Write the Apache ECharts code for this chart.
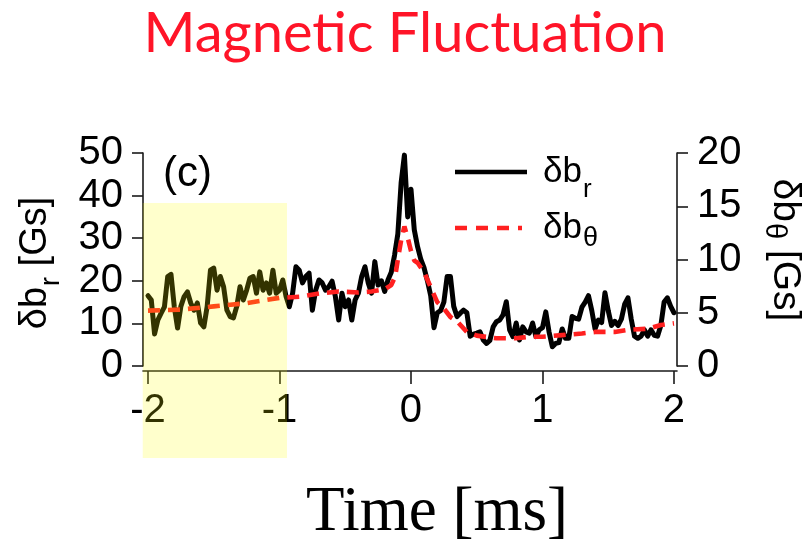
<!DOCTYPE html>
<html><head><meta charset="utf-8">
<script src="https://cdn.jsdelivr.net/npm/echarts@6/dist/echarts.min.js"></script>
<style>html,body{margin:0;padding:0;background:#fff}#main{width:811px;height:542px}</style>
</head><body><div id="main"></div>
<script>
// ---- data ----
const tStart = -2, tStep = 0.025; // sampling grid of the δb_r trace [ms]
const br = [
16.5,15.5,7.5,10.8,12.4,13.9,21,21.5,13.9,8.9,
14,16.3,17.4,14.8,13.1,14.8,10.1,9.2,14,22.5,
23,17.8,21,18.6,13.1,11.6,11.3,14,18.6,15.5,
17.8,20.6,21,17.1,22.1,17.8,19.5,17.1,22.5,17.1,
17.8,20.2,16.3,13.9,17.1,23.3,22.5,19.5,21,21.8,
13.1,17.8,20.2,19.5,17.8,18.6,19.9,16.3,10.8,17.1,
13.9,15.5,10.8,15.5,17.1,21,23.3,19.5,17.1,24.5,
19,20,17.5,20.2,22,26,31,43,49.5,35,
41.5,32,28,25,23,20,16.5,9,12.5,13,
15,21,21,14,11.6,12.4,13.1,12.5,7,7.5,
7.7,8,6.1,5.3,6,9.2,10.4,10.8,12,15.1,
8.5,6.9,10.1,6.1,9.2,8,7.7,10.1,6.9,8.5,
9,12.7,8,4.5,5.3,5.5,8.7,6.5,6.5,11.6,
11.2,11,13.8,15,16.5,13,8.7,10.8,10.2,17.2,
13,9.5,10.5,9.5,11,14.5,16,11,7,6.5,
7,8.5,7,8.5,7.2,7,9.5,15,16,14,
12.5
];
const thetaTimes = [-2.0,-1.75,-1.5,-1.25,-1.0,-0.85,-0.7,-0.55,-0.4,-0.3,-0.2,-0.15,-0.12,-0.1,-0.075,-0.05,-0.02,0.0,0.025,0.05,0.1,0.15,0.2,0.25,0.3,0.35,0.425,0.5,0.65,0.8,0.9,1.0,1.15,1.3,1.4,1.55,1.65,1.8,1.9,2.0];
const thetaValues = [5.2,5.3,5.6,5.9,6.4,6.5,6.8,7.0,6.9,7.0,7.2,7.6,8.4,10.0,11.8,13.1,11.8,10.8,9.9,9.7,8.8,7.4,6.0,5.4,4.6,4.2,3.2,2.85,2.6,2.6,2.75,2.75,2.9,3.05,3.2,3.2,3.4,3.5,3.85,4.0];
const xTickValues = [-2,-1,0,1,2];
const highlightRange = [-2.04, -0.943]; // shaded time window [ms]

const chart = echarts.init(document.getElementById('main'), null, {renderer:'canvas'});
const FONT = 'Liberation Sans';
const axisCol = '#1a1a1a';
const brData = br.map((v,i)=>[+(tStart + i*tStep).toFixed(3), v]);
const thData = thetaTimes.map((t,i)=>[t, thetaValues[i]]);

chart.setOption({
  animation:false,
  backgroundColor:'#fff',
  grid:{left:143, right:134, top:153, bottom:176},
  xAxis:{
    type:'value', min:-2.038, max:2.023, offset:5,
    axisLine:{show:true, onZero:false, lineStyle:{color:axisCol, width:1.6}},
    axisTick:{show:true, length:13, customValues:xTickValues, lineStyle:{color:axisCol, width:1.6}},
    axisLabel:{customValues:xTickValues, fontSize:40, fontFamily:FONT, color:'#000', margin:20,
      formatter:v=>String(Math.round(v))},
    splitLine:{show:false}
  },
  yAxis:[
    {type:'value', min:0, max:50, interval:10, position:'left',
     axisLine:{show:true, onZero:false, lineStyle:{color:axisCol, width:1.6}},
     axisTick:{show:true, length:11, lineStyle:{color:axisCol, width:1.6}},
     axisLabel:{fontSize:40, fontFamily:FONT, color:'#000', margin:20},
     splitLine:{show:false}},
    {type:'value', min:0, max:20, interval:5, position:'right',
     axisLine:{show:true, onZero:false, lineStyle:{color:axisCol, width:1.6}},
     axisTick:{show:true, length:11, lineStyle:{color:axisCol, width:1.6}},
     axisLabel:{fontSize:40, fontFamily:FONT, color:'#000', margin:20},
     splitLine:{show:false}}
  ],
  series:[
    {type:'line', name:'δb_r', yAxisIndex:0, data:brData, showSymbol:false, z:3,
     lineStyle:{color:'#000', width:5, join:'round', cap:'round'}},
    {type:'line', name:'δb_θ', yAxisIndex:1, data:thData, showSymbol:false, z:4,
     lineStyle:{color:'#ff2020', width:4.6, type:[12,8]}}
  ]
});

const xL = chart.convertToPixel({xAxisIndex:0}, highlightRange[0]);
const xR = chart.convertToPixel({xAxisIndex:0}, highlightRange[1]);

chart.setOption({
  graphic:[
    {type:'text', x:405, y:34, z:50, style:{text:'Magnetic Fluctuation', fill:'#ff1428',
      font:'56px Lato', textAlign:'center', textVerticalAlign:'middle'}},
    {type:'text', x:163, y:174, z:50, style:{text:'(c)', fill:'#000',
      font:'42px "Liberation Sans"', textAlign:'left', textVerticalAlign:'middle'}},
    {type:'text', x:437, y:513, z:50, style:{text:'Time [ms]', fill:'#000',
      font:'63px "Liberation Serif"', textAlign:'center', textVerticalAlign:'middle'}},
    // legend
    {type:'line', z:50, shape:{x1:455, y1:172, x2:527, y2:172}, style:{stroke:'#000', lineWidth:4.5}},
    {type:'line', z:50, shape:{x1:455, y1:228, x2:522, y2:228}, style:{stroke:'#ff2020', lineWidth:4.6, lineDash:[12,9]}},
    {type:'text', x:543, y:172, z:50, style:{text:'{m|δb}{s|r}', textAlign:'left', textVerticalAlign:'middle', fill:'#000',
      rich:{m:{fontSize:35, fontFamily:FONT, fill:'#000'}, s:{fontSize:26, fontFamily:FONT, fill:'#000', padding:[36,0,0,1]}}}},
    {type:'text', x:543, y:228, z:50, style:{text:'{m|δb}{s|θ}', textAlign:'left', textVerticalAlign:'middle', fill:'#000',
      rich:{m:{fontSize:35, fontFamily:FONT, fill:'#000'}, s:{fontSize:27, fontFamily:FONT, fill:'#000', padding:[22,0,0,1]}}}},
    // axis names
    {type:'text', x:36, y:263, rotation:Math.PI/2, z:50, style:{text:'{m|δb}{s|r}{m| [Gs]}', textAlign:'center', textVerticalAlign:'middle', fill:'#000',
      rich:{m:{fontSize:38, fontFamily:FONT, fill:'#000'}, s:{fontSize:27, fontFamily:FONT, fill:'#000', padding:[32,0,0,1]}}}},
    {type:'text', x:785, y:250, rotation:-Math.PI/2, z:50, style:{text:'{m|δb}{s|θ}{m| [Gs]}', textAlign:'center', textVerticalAlign:'middle', fill:'#000',
      rich:{m:{fontSize:39, fontFamily:FONT, fill:'#000'}, s:{fontSize:29, fontFamily:FONT, fill:'#000', padding:[22,0,0,1]}}}},
    // highlighted window
    {type:'rect', z:100, shape:{x:xL, y:203, width:xR-xL, height:255}, style:{fill:'rgba(255,255,0,0.2)'}}
  ]
});
</script>
</body></html>
